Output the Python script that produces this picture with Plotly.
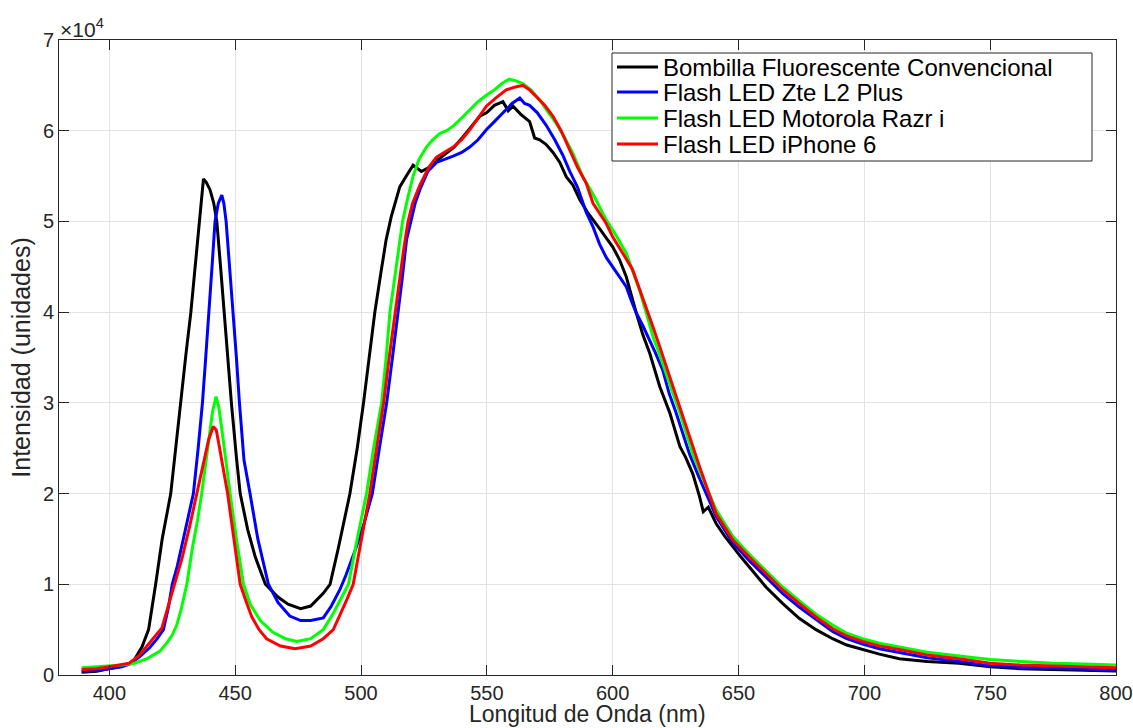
import plotly.graph_objects as go

# Wavelength (nm) and intensity (units of 10^4)
wl_bombilla = [389, 395, 400, 405, 408, 410, 413, 415.6, 418.4, 421, 424.4, 426.3, 428.3, 430.5, 432.4, 434.2, 435.8, 437.4, 438.5, 440, 441.5, 442.7, 444.2, 445.6, 447, 448.5, 450.5, 452, 455, 458, 462, 467, 471, 476, 480, 485, 487.7, 491, 495.6, 498.5, 501, 503.3, 505.5, 508, 510, 512, 513.5, 515.4, 518, 520.7, 524, 527.3, 530.5, 533.9, 537, 540.5, 544, 547.2, 550, 553, 556.4, 558.5, 560.4, 563.5, 567, 569, 571, 573.5, 576.3, 579, 581.6, 584.2, 586.9, 590, 594, 600, 602.7, 605.4, 609.4, 612, 614.7, 618.7, 622.7, 626.7, 629, 631.8, 634.5, 636, 638, 641.1, 644.5, 647.7, 651, 654.3, 660.9, 667.5, 674.1, 680.8, 687.4, 693, 699.3, 706, 713.9, 725, 737.7, 750, 762, 775, 787, 800]
int_bombilla = [0.03, 0.04, 0.07, 0.10, 0.13, 0.17, 0.31, 0.50, 1.00, 1.50, 2.00, 2.50, 3.00, 3.55, 4.00, 4.50, 5.00, 5.47, 5.43, 5.35, 5.20, 5.00, 4.50, 4.00, 3.50, 3.00, 2.40, 2.00, 1.60, 1.30, 1.00, 0.86, 0.78, 0.73, 0.76, 0.90, 1.00, 1.40, 2.00, 2.50, 3.00, 3.50, 4.00, 4.45, 4.80, 5.05, 5.20, 5.38, 5.50, 5.62, 5.55, 5.60, 5.68, 5.75, 5.82, 5.93, 6.05, 6.16, 6.20, 6.28, 6.32, 6.22, 6.27, 6.18, 6.10, 5.92, 5.90, 5.85, 5.76, 5.65, 5.49, 5.40, 5.24, 5.10, 4.95, 4.72, 4.58, 4.39, 3.99, 3.75, 3.55, 3.18, 2.89, 2.52, 2.40, 2.22, 1.97, 1.80, 1.85, 1.67, 1.53, 1.41, 1.30, 1.19, 0.97, 0.79, 0.625, 0.50, 0.40, 0.33, 0.28, 0.23, 0.18, 0.15, 0.13, 0.09, 0.07, 0.06, 0.05, 0.045]

wl_zte = [389, 395, 400, 405, 408, 412, 416, 419, 421.5, 423.5, 425, 427, 429, 431, 433.4, 435.3, 437, 438.3, 439.4, 440.8, 442, 443.3, 444.7, 445.5, 446.4, 447.8, 449.3, 450.5, 451.7, 453.5, 455.9, 459, 463.2, 467, 471.7, 476, 480, 485, 488, 491.6, 494, 498, 501, 504.5, 507.3, 510.2, 512.5, 514.8, 516.5, 518.1, 519.7, 521.5, 523.4, 526.5, 530, 533, 536.6, 540, 543.2, 546.5, 549.8, 553, 556.4, 560, 563.1, 565, 567, 570, 573.6, 577, 580.2, 583, 586, 589.5, 592.2, 594.8, 597.5, 600, 602.7, 605.4, 607.5, 609.4, 612, 614.7, 617, 619.9, 622.5, 625.2, 628, 630.5, 634, 637.1, 641.1, 644.5, 647.7, 654.3, 660.9, 667.5, 674.1, 680.8, 687.4, 693, 699.3, 706, 713.9, 725, 737.7, 750, 762, 775, 787, 800]
int_zte = [0.04, 0.05, 0.07, 0.09, 0.12, 0.20, 0.30, 0.40, 0.50, 0.75, 1.00, 1.20, 1.45, 1.70, 2.00, 2.50, 3.00, 3.50, 4.00, 4.50, 5.00, 5.20, 5.29, 5.20, 5.00, 4.50, 4.00, 3.50, 3.00, 2.37, 2.00, 1.50, 1.00, 0.80, 0.65, 0.60, 0.60, 0.63, 0.75, 0.94, 1.10, 1.40, 1.65, 2.00, 2.50, 3.00, 3.50, 4.00, 4.40, 4.80, 5.00, 5.20, 5.35, 5.55, 5.65, 5.68, 5.72, 5.76, 5.82, 5.90, 6.01, 6.10, 6.20, 6.30, 6.36, 6.30, 6.28, 6.20, 6.06, 5.90, 5.73, 5.55, 5.38, 5.10, 4.94, 4.75, 4.60, 4.50, 4.40, 4.28, 4.12, 3.99, 3.85, 3.69, 3.55, 3.36, 3.10, 2.89, 2.65, 2.44, 2.20, 2.00, 1.75, 1.60, 1.46, 1.26, 1.08, 0.90, 0.75, 0.61, 0.48, 0.40, 0.34, 0.29, 0.25, 0.19, 0.15, 0.10, 0.085, 0.075, 0.065, 0.055]

wl_motorola = [389, 395, 400, 405, 410, 415, 420, 423, 425, 426.8, 428.5, 430.8, 433, 435, 436.7, 438.3, 439.8, 441, 442.4, 443.5, 444.5, 446, 448, 450.5, 453.3, 456, 460, 465, 470, 474.5, 480, 485, 489, 492, 495, 498.5, 502.2, 505, 508.2, 510, 511.5, 513.5, 515.4, 516.5, 518.5, 520.7, 523, 526, 528.5, 531.3, 534, 536.6, 540, 543.2, 546.5, 549.8, 553, 556, 558.9, 561.5, 564.3, 567.5, 571, 574.5, 577.6, 581, 584.2, 588, 592.2, 597.4, 601.5, 605.4, 608, 610.7, 613.5, 616, 618.7, 621.3, 624, 626.7, 629.2, 631.8, 635, 638.4, 641.1, 644.5, 647.7, 654.3, 660.9, 667.5, 674.1, 680.8, 687.4, 693, 699.3, 706, 713.9, 725, 737.7, 750, 762, 775, 787, 800]
int_motorola = [0.08, 0.09, 0.10, 0.11, 0.13, 0.18, 0.26, 0.36, 0.44, 0.55, 0.72, 1.00, 1.40, 1.70, 2.00, 2.35, 2.65, 2.90, 3.07, 2.95, 2.75, 2.40, 2.00, 1.50, 1.00, 0.78, 0.60, 0.47, 0.40, 0.37, 0.40, 0.50, 0.68, 0.84, 1.00, 1.50, 2.00, 2.50, 3.00, 3.50, 4.00, 4.40, 4.80, 5.00, 5.25, 5.50, 5.68, 5.82, 5.90, 5.97, 6.00, 6.05, 6.14, 6.23, 6.32, 6.39, 6.45, 6.52, 6.57, 6.55, 6.52, 6.45, 6.34, 6.20, 6.08, 5.92, 5.75, 5.50, 5.30, 5.02, 4.84, 4.65, 4.45, 4.24, 3.98, 3.73, 3.53, 3.33, 3.10, 2.89, 2.66, 2.44, 2.22, 2.00, 1.82, 1.67, 1.53, 1.33, 1.15, 0.97, 0.82, 0.67, 0.55, 0.46, 0.40, 0.35, 0.31, 0.25, 0.21, 0.17, 0.15, 0.13, 0.12, 0.11]

wl_iphone = [389, 395, 400, 405, 408, 412, 416, 418.5, 420.9, 423, 425.9, 429, 432, 434.8, 437, 439.5, 441.3, 442.5, 443.5, 445, 447, 449.5, 452, 454.5, 456.6, 459.5, 462.5, 468, 473.8, 480, 485, 489, 492, 494.5, 496.9, 500, 503.5, 506.2, 509, 511.2, 513.5, 515.5, 517, 518.7, 520.5, 523.4, 527, 530, 533, 536.6, 540, 543.2, 546.5, 549.8, 553.5, 557.7, 561, 564.3, 567, 569.6, 573, 576.3, 579.5, 582.9, 586, 589.5, 592.2, 597.4, 600, 604, 607.9, 610.5, 613.3, 616, 618.7, 621.3, 623.9, 626.5, 629.2, 632, 634.5, 638, 641.1, 644.5, 647.7, 654.3, 660.9, 667.5, 674.1, 680.8, 687.4, 693, 699.3, 706, 713.9, 725, 737.7, 750, 762, 775, 787, 800]
int_iphone = [0.06, 0.07, 0.09, 0.11, 0.13, 0.22, 0.35, 0.43, 0.52, 0.72, 1.00, 1.30, 1.65, 2.00, 2.30, 2.60, 2.74, 2.70, 2.55, 2.30, 2.00, 1.50, 1.00, 0.80, 0.64, 0.50, 0.40, 0.32, 0.29, 0.32, 0.40, 0.50, 0.68, 0.84, 1.00, 1.45, 2.00, 2.50, 3.00, 3.50, 4.00, 4.40, 4.70, 5.00, 5.20, 5.40, 5.60, 5.71, 5.76, 5.82, 5.90, 6.01, 6.14, 6.27, 6.36, 6.45, 6.48, 6.50, 6.45, 6.38, 6.28, 6.16, 6.00, 5.79, 5.60, 5.42, 5.20, 4.98, 4.83, 4.65, 4.47, 4.27, 4.06, 3.84, 3.62, 3.40, 3.18, 2.96, 2.74, 2.52, 2.30, 2.02, 1.78, 1.63, 1.49, 1.30, 1.12, 0.94, 0.79, 0.64, 0.51, 0.43, 0.37, 0.32, 0.28, 0.22, 0.18, 0.13, 0.11, 0.10, 0.09, 0.08]

series_names = ["Bombilla Fluorescente Convencional", "Flash LED Zte L2 Plus",
                "Flash LED Motorola Razr i", "Flash LED iPhone 6"]
series_colors = ["#000000", "#0000ff", "#00ff00", "#ff0000"]
x_ticks = [400, 450, 500, 550, 600, 650, 700, 750, 800]
y_ticks = [0, 1, 2, 3, 4, 5, 6, 7]
x_title = "Longitud de Onda (nm)"
y_title = "Intensidad (unidades)"

FONT = "Liberation Sans, Arial, Helvetica, sans-serif"
W, H = 1133, 728
ML, MR, MT, MB = 59, 17, 40, 53
PW, PH = W - ML - MR, H - MT - MB


def px_to_paper(px, py):
    return (px - ML) / PW, (H - MB - py) / PH


fig = go.Figure()
for wl, iv, name, col in zip(
        [wl_bombilla, wl_zte, wl_motorola, wl_iphone],
        [int_bombilla, int_zte, int_motorola, int_iphone],
        series_names, series_colors):
    fig.add_trace(go.Scatter(x=wl, y=iv, mode="lines", name=name,
                             line=dict(color=col, width=3), showlegend=False))

axis_common = dict(
    showline=True, linecolor="#262626", linewidth=1, mirror="ticks",
    ticks="inside", ticklen=10, tickcolor="#262626", tickwidth=1,
    showgrid=True, gridcolor="#e3e3e3", gridwidth=1, zeroline=False,
    automargin=False, ticklabeloverflow="allow",
    tickfont=dict(family=FONT, size=20, color="#262626"),
)

# Custom legend box (MATLAB-style, compact rows)
shapes = []
annotations = []
bx0, by0 = px_to_paper(612, 161)
bx1, by1 = px_to_paper(1092, 53)
shapes.append(dict(type="rect", xref="paper", yref="paper",
                   x0=bx0, y0=by0, x1=bx1, y1=by1,
                   line=dict(color="#262626", width=1), fillcolor="white",
                   layer="above"))
row_y = [67, 92, 118, 144]
for ry, name, col in zip(row_y, series_names, series_colors):
    lx0, ly = px_to_paper(617, ry)
    lx1, _ = px_to_paper(658, ry)
    shapes.append(dict(type="line", xref="paper", yref="paper",
                       x0=lx0, x1=lx1, y0=ly, y1=ly,
                       line=dict(color=col, width=3), layer="above"))
    tx, _ = px_to_paper(661, ry)
    annotations.append(dict(text=name, xref="paper", yref="paper",
                            x=tx, y=ly, xanchor="left", yanchor="middle",
                            showarrow=False,
                            font=dict(family=FONT, size=24, color="#000000")))

annotations.append(dict(text="×10<sup>4</sup>", xref="paper", yref="paper",
                        x=0, y=1, xanchor="left", yanchor="bottom",
                        showarrow=False, yshift=-3, xshift=-1,
                        font=dict(family=FONT, size=21, color="#262626")))

# x-axis title placed at the bottom edge of the figure
_, tty = px_to_paper(0, 728)
annotations.append(dict(text=x_title, xref="paper", yref="paper",
                        x=0.5, y=tty, xanchor="center", yanchor="bottom",
                        showarrow=False, borderpad=0,
                        font=dict(family=FONT, size=23, color="#262626")))

fig.update_layout(
    width=W, height=H,
    margin=dict(l=ML, r=MR, t=MT, b=MB),
    paper_bgcolor="white", plot_bgcolor="white",
    font=dict(family=FONT, color="#262626"),
    xaxis=dict(range=[380, 800], tickvals=x_ticks, **axis_common),
    yaxis=dict(range=[0, 7], tickvals=y_ticks,
               title=dict(text=y_title, standoff=5,
                          font=dict(family=FONT, size=25, color="#262626")),
               **axis_common),
    showlegend=False,
    shapes=shapes,
    annotations=annotations,
)

fig.write_html("out.html")
